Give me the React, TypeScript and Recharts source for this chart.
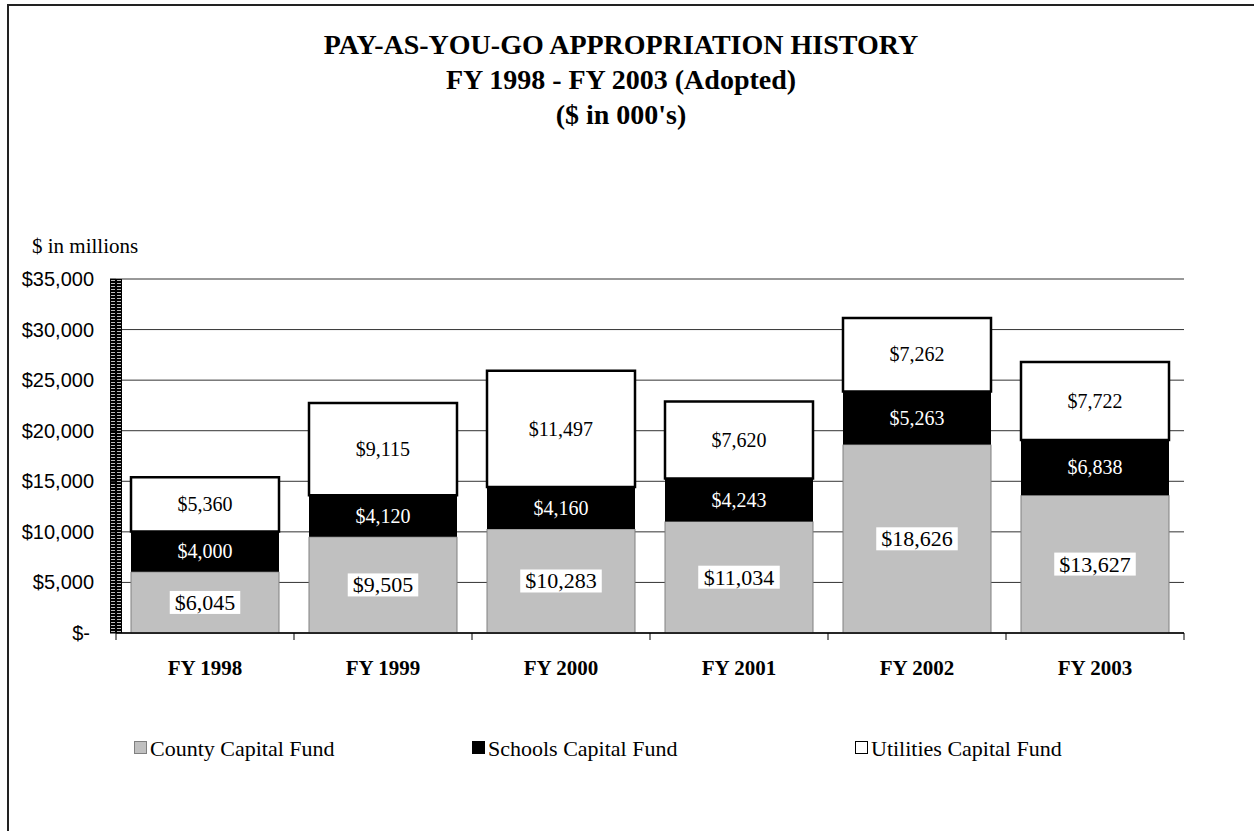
import React from 'react';
import { BarChart, Bar, XAxis, YAxis, CartesianGrid, LabelList, Legend } from 'recharts';

const categories = ['FY 1998', 'FY 1999', 'FY 2000', 'FY 2001', 'FY 2002', 'FY 2003'];
const countyCapital = [6045, 9505, 10283, 11034, 18626, 13627];
const schoolsCapital = [4000, 4120, 4160, 4243, 5263, 6838];
// drawn segment heights (the FY 2003 schools segment is drawn shorter than its label)
const schoolsDrawn = [4000, 4120, 4160, 4243, 5263, 5455];
const utilitiesCapital = [5360, 9115, 11497, 7620, 7262, 7722];
const yTicks = [0, 5000, 10000, 15000, 20000, 25000, 30000, 35000];
const titleLines = ['PAY-AS-YOU-GO APPROPRIATION HISTORY', 'FY 1998 - FY 2003 (Adopted)', "($ in 000's)"];
const yUnitLabel = '$ in millions';
const seriesNames = ['County Capital Fund', 'Schools Capital Fund', 'Utilities Capital Fund'];

const data = categories.map((c, i) => ({
  category: c,
  county: countyCapital[i],
  schools: schoolsDrawn[i],
  schoolsLabel: schoolsCapital[i],
  utilities: utilitiesCapital[i],
}));

const SERIF = "'Liberation Serif', 'Times New Roman', Times, serif";
const SANS = "'Liberation Sans', Arial, Helvetica, sans-serif";

const fmt = (v: number) => '$' + Number(v).toLocaleString('en-US');

const makeLabel = (color: string, fontSize: number, boxed: boolean) => (props: any) => {
  const { x, y, width, height, value } = props;
  const cx = Number(x) + Number(width) / 2;
  const cy = Number(y) + Number(height) / 2;
  const text = fmt(value);
  const commas = (text.match(/,/g) || []).length;
  const w = (text.length - commas * 0.5) * fontSize * 0.5 + 10;
  return (
    <g>
      {boxed && <rect x={cx - w / 2} y={cy - 11.5} width={w} height={23} fill="#fff" />}
      <text x={cx} y={cy} dy="0.34em" textAnchor="middle" fill={color} fontSize={fontSize} fontFamily={SERIF}>
        {text}
      </text>
    </g>
  );
};

const XTick = (props: any) => {
  const { x, y, payload, index, visibleTicksCount, width } = props;
  const count = visibleTicksCount || categories.length;
  const band = (Number(width) || 1068) / count;
  const left = x - band / 2;
  return (
    <g>
      <line x1={left} y1={y - 7} x2={left} y2={y} stroke="#000" strokeWidth={1} />
      {index === count - 1 && <line x1={x + band / 2} y1={y - 7} x2={x + band / 2} y2={y} stroke="#000" strokeWidth={1} />}
      <text x={x} y={y + 35} textAnchor="middle" fontWeight="bold" fontSize={21} fontFamily={SERIF} fill="#000">
        {payload.value}
      </text>
    </g>
  );
};

const YTick = (props: any) => {
  const { x, y, payload } = props;
  const v = Number(payload.value);
  return (
    <text x={v === 0 ? x - 4 : x} y={y} dy="0.35em" textAnchor="end" fontFamily={SANS} fontSize={20} fill="#000">
      {v === 0 ? '$-' : fmt(v)}
    </text>
  );
};

const swatchStyles: React.CSSProperties[] = [
  { background: '#C0C0C0', border: '1px solid #808080' },
  { background: '#000', border: '1px solid #000' },
  { background: '#fff', border: '1.5px solid #000' },
];
const legendLefts = [134, 472, 855];

const renderLegend = (props: any) => {
  const payload = props.payload || [];
  return (
    <div style={{ position: 'relative', width: 1254, height: 40 }}>
      {payload.map((p: any, i: number) => (
        <div
          key={i}
          style={{
            position: 'absolute',
            left: legendLefts[i],
            top: 0,
            display: 'flex',
            alignItems: 'center',
            fontFamily: SERIF,
            fontSize: 22,
            color: '#000',
            whiteSpace: 'nowrap',
          }}
        >
          <span style={{ display: 'inline-block', width: 11, height: 11, marginRight: 3, marginTop: -4, ...swatchStyles[i] }} />
          <span>{seriesNames[i] ?? p.value}</span>
        </div>
      ))}
    </div>
  );
};

export default function App() {
  return (
    <div style={{ position: 'absolute', left: 0, top: 0, width: 1254, height: 831, background: '#fff' }}>
      <BarChart
        width={1254}
        height={831}
        data={data}
        margin={{ top: 279, right: 70, bottom: 168, left: 16 }}
        barSize={148}
      >
        <defs>
          <pattern id="wallHatch" x={110} y={0} width={12} height={3} patternUnits="userSpaceOnUse">
            <rect x={0} y={0} width={12} height={3} fill="#000" />
            <rect x={1} y={1} width={4} height={1} fill="#bbb" />
            <rect x={7} y={1} width={4} height={1} fill="#bbb" />
          </pattern>
        </defs>
        <CartesianGrid vertical={false} stroke="#333" strokeWidth={1} />
        <XAxis
          dataKey="category"
          height={30}
          tickLine={false}
          tickSize={7}
          tickMargin={0}
          axisLine={{ stroke: '#000', strokeWidth: 1.5 }}
          tick={<XTick />}
          interval={0}
        />
        <YAxis
          width={100}
          domain={[0, 35000]}
          ticks={yTicks}
          interval={0}
          tickSize={6}
          tickMargin={16}
          tickLine={{ stroke: '#000' }}
          axisLine={{ stroke: 'url(#wallHatch)', strokeWidth: 12 }}
          tick={<YTick />}
        />
        <YAxis
          yAxisId="right"
          orientation="right"
          width={0}
          domain={[0, 35000]}
          ticks={yTicks}
          tick={false}
          tickLine={false}
          axisLine={{ stroke: '#808080', strokeWidth: 1.5 }}
        />
        <Legend
          layout="horizontal"
          verticalAlign="middle"
          align="center"
          wrapperStyle={{ top: 736, left: 0, width: 1254, height: 40 }}
          content={renderLegend}
        />
        <Bar dataKey="county" name={seriesNames[0]} stackId="a" fill="#C0C0C0" stroke="#808080" strokeWidth={1} isAnimationActive={false}>
          <LabelList dataKey="county" content={makeLabel('#000', 22, true)} />
        </Bar>
        <Bar dataKey="schools" name={seriesNames[1]} stackId="a" fill="#000" isAnimationActive={false}>
          <LabelList dataKey="schoolsLabel" content={makeLabel('#fff', 20, false)} />
        </Bar>
        <Bar dataKey="utilities" name={seriesNames[2]} stackId="a" fill="#fff" stroke="#000" strokeWidth={2.5} isAnimationActive={false}>
          <LabelList dataKey="utilities" content={makeLabel('#000', 20, false)} />
        </Bar>
      </BarChart>
      <svg
        width={1254}
        height={831}
        style={{ position: 'absolute', left: 0, top: 0, pointerEvents: 'none' }}
      >
        <line x1={7} y1={5} x2={1254} y2={5} stroke="#222" strokeWidth={2} />
        <line x1={8} y1={4} x2={8} y2={831} stroke="#222" strokeWidth={2} />
        {titleLines.map((t, i) => (
          <text
            key={i}
            x={621}
            y={54 + i * 35}
            textAnchor="middle"
            fontFamily={SERIF}
            fontWeight="bold"
            fontSize={28}
            fill="#000"
          >
            {t}
          </text>
        ))}
        <text x={32} y={253} fontFamily={SERIF} fontSize={21} fill="#000">
          {yUnitLabel}
        </text>
      </svg>
    </div>
  );
}
